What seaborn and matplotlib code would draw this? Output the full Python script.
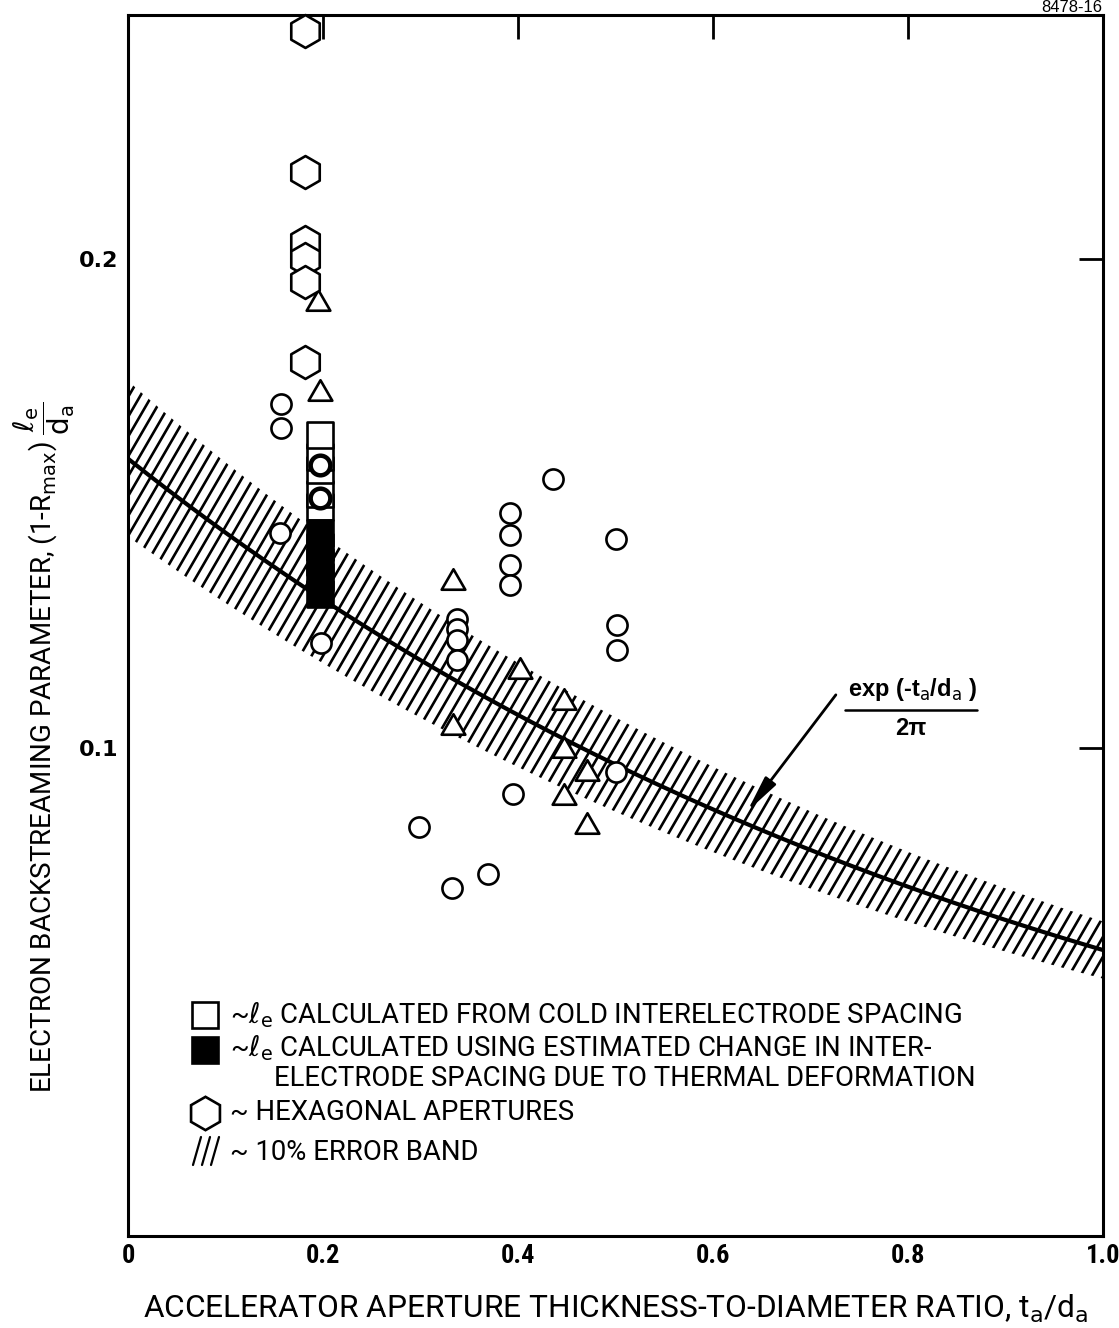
import numpy as np
import pandas as pd
import matplotlib
matplotlib.use("Agg")
import matplotlib.pyplot as plt
import seaborn as sns
from matplotlib.collections import LineCollection
from matplotlib.path import Path
from matplotlib import font_manager as fm

# ---- measured points (t_a/d_a, (1-Rmax) l_e/d_a) ----
circle_x = [0.436, 0.392, 0.392, 0.392, 0.392, 0.500, 0.502, 0.502,
            0.337, 0.337, 0.337, 0.337, 0.500, 0.395, 0.298, 0.369,
            0.332, 0.157, 0.157, 0.156, 0.198]
circle_y = [0.1550, 0.1481, 0.1436, 0.1374, 0.1333, 0.1427, 0.1252, 0.1200,
            0.1264, 0.1243, 0.1221, 0.1180, 0.0951, 0.0906, 0.0838, 0.0742,
            0.0712, 0.1703, 0.1654, 0.1440, 0.1215]

bold_circle_x = [0.197, 0.197]
bold_circle_y = [0.1579, 0.1511]

triangle_x = [0.195, 0.197, 0.333, 0.402, 0.333, 0.447, 0.447, 0.471, 0.447, 0.471]
triangle_y = [0.1916, 0.1732, 0.1346, 0.1162, 0.1049, 0.1100, 0.1002, 0.0955, 0.0906, 0.0845]

hexagon_x = [0.1815, 0.1815, 0.1815, 0.1815, 0.1815, 0.1815]
hexagon_y = [0.2468, 0.2178, 0.2035, 0.2000, 0.1953, 0.1789]

cold_square_x = [0.197, 0.197, 0.197, 0.197, 0.197]
cold_square_y = [0.1640, 0.1595, 0.1569, 0.1519, 0.1493]

hot_square_x = [0.197, 0.197, 0.197, 0.197, 0.197]
hot_square_y = [0.1440, 0.1411, 0.1380, 0.1350, 0.1315]

x_ticks = [0, 0.2, 0.4, 0.6, 0.8, 1.0]
x_tick_labels = ["0", "0.2", "0.4", "0.6", "0.8", "1.0"]
y_ticks = [0.1, 0.2]
y_tick_labels = ["0.1", "0.2"]

error_fraction = 0.10

# ---- fonts ----
sns.set_style("white")
_fonts = fm.fontManager.ttflist
_names = {f.name for f in _fonts}
NARROW_STRETCH = "normal"
if "Liberation Sans Narrow" in _names:
    NARROW_FAMILY = "Liberation Sans Narrow"
elif "Roboto Condensed" in _names:
    NARROW_FAMILY = "Roboto Condensed"
elif any(f.name == "DejaVu Sans" and str(f.stretch) in ("condensed", "semi-condensed")
         for f in _fonts):
    NARROW_FAMILY = "DejaVu Sans"
    NARROW_STRETCH = "condensed"
else:
    NARROW_FAMILY = "Roboto"
NARROW = [NARROW_FAMILY, "DejaVu Sans"]
LETTER = ["Roboto", "DejaVu Sans"]

plt.rcParams["font.family"] = LETTER
plt.rcParams["mathtext.fontset"] = "dejavusans"
for key in ("text.color", "axes.labelcolor", "xtick.color", "ytick.color", "axes.edgecolor"):
    plt.rcParams[key] = "black"

W, H = 1119, 1328
fig = plt.figure(figsize=(W / 100, H / 100), dpi=100)
L, R, T, B = 128, 1103, 15, 1236
ax = fig.add_axes([L / W, 1 - B / H, (R - L) / W, (B - T) / H])
ax.set_xlim(0, 1.0)
ax.set_ylim(0, 0.25)

# ---- theoretical curve and 10% band ----
xs = np.linspace(0, 1.0, 400)
curve = np.exp(-xs) / (2 * np.pi)
band = ax.fill_between(xs, curve * (1 - error_fraction), curve * (1 + error_fraction),
                       facecolor="none", edgecolor="none", zorder=1)
# steep hatch lines clipped to the band
px_x = 1.0 / (R - L)
dx_line = 0.58 * (B - T) * px_x
starts = np.arange(-0.9, 1.1, 11.5 * px_x)
segs = [[(s, 0.0), (s + dx_line, 0.25)] for s in starts]
hatch = LineCollection(segs, colors="black", linewidths=1.9, zorder=1)
ax.add_collection(hatch)
hatch.set_clip_path(band.get_paths()[0], ax.transData)

curve_df = pd.DataFrame({"x": xs, "y": curve})
sns.lineplot(data=curve_df, x="x", y="y", ax=ax, color="black", linewidth=3.0, zorder=2)

# ---- data markers ----
tri = Path([(-1, -0.866), (1, -0.866), (0, 0.866), (-1, -0.866)],
           [Path.MOVETO, Path.LINETO, Path.LINETO, Path.CLOSEPOLY])
sns.scatterplot(x=circle_x, y=circle_y, ax=ax, marker="o", s=210, color="white",
                edgecolor="black", linewidth=1.9, zorder=4)
sns.scatterplot(x=triangle_x, y=triangle_y, ax=ax, marker=tri, s=290, color="white",
                edgecolor="black", linewidth=1.9, zorder=4)
sns.scatterplot(x=hexagon_x, y=hexagon_y, ax=ax, marker="h", s=560, color="white",
                edgecolor="black", linewidth=1.9, zorder=4, clip_on=False)
# cold-spacing squares, drawn so the upper one sits on top
for i in range(len(cold_square_x) - 1, -1, -1):
    sns.scatterplot(x=[cold_square_x[i]], y=[cold_square_y[i]], ax=ax, marker="s",
                    s=340, color="white", edgecolor="black", linewidth=1.9, zorder=4)
sns.scatterplot(x=hot_square_x, y=hot_square_y, ax=ax, marker="s", s=340,
                color="black", edgecolor="black", linewidth=1.9, zorder=4)
sns.scatterplot(x=bold_circle_x, y=bold_circle_y, ax=ax, marker="o", s=200,
                color="white", edgecolor="black", linewidth=3.2, zorder=5)

# ---- curve annotation ----
ax.annotate("", xy=(0.635, 0.0869), xytext=(0.726, 0.1108),
            arrowprops=dict(arrowstyle="-|>,head_length=1.1,head_width=0.2",
                            mutation_scale=20, lw=2.0, color="black",
                            shrinkA=0, shrinkB=0), zorder=6)
ax.text(0.805, 0.1118, r"exp (-t$_{\rm a}$/d$_{\rm a}$ )", ha="center", va="center",
        fontsize=17, fontweight="bold", family=["Liberation Sans", "DejaVu Sans"])
ax.plot([0.735, 0.871], [0.1076, 0.1076], color="black", lw=1.8, zorder=6)
ax.text(0.803, 0.1040, "2π", ha="center", va="center", fontsize=17,
        fontweight="bold", family=["Liberation Sans", "DejaVu Sans"])

# ---- legend (drawn in axes fraction) ----
def ax_pt(px, py):
    return ((px - L) / (R - L), 1 - (py - T) / (B - T))

leg_fs = 19.8
mx = 205
for py, mk, fc, sz in [(1015, "s", "white", 19), (1050, "s", "black", 19), (1113, "h", "white", 24)]:
    xa, ya = ax_pt(mx, py)
    ax.plot([xa], [ya], marker=mk, ms=sz, mfc=fc, mec="black", mew=1.9,
            transform=ax.transAxes, clip_on=False, zorder=6)
# three slashes for the band entry
for k in range(3):
    x0, y0 = ax_pt(193 + k * 9, 1165)
    x1, y1 = ax_pt(201 + k * 9, 1137)
    ax.plot([x0, x1], [y0, y1], color="black", lw=1.6, transform=ax.transAxes)

legend_rows = [
    (230, 1015, r"~$\ell_{\rm e}$ CALCULATED FROM COLD INTERELECTRODE SPACING"),
    (230, 1048, r"~$\ell_{\rm e}$ CALCULATED USING ESTIMATED CHANGE IN INTER-"),
    (274, 1078, "ELECTRODE SPACING DUE TO THERMAL DEFORMATION"),
    (230, 1113, "~ HEXAGONAL APERTURES"),
    (230, 1152, "~ 10% ERROR BAND"),
]
for px, py, txt in legend_rows:
    xa, ya = ax_pt(px, py)
    ax.text(xa, ya, txt, transform=ax.transAxes, ha="left", va="center",
            fontsize=leg_fs)

# ---- axes styling ----
for sp in ax.spines.values():
    sp.set_visible(True)
    sp.set_linewidth(2.2)
    sp.set_color("black")
ax.set_xticks(x_ticks)
ax.set_xticklabels(x_tick_labels, fontsize=19, fontweight="bold", family=NARROW,
                   fontstretch=NARROW_STRETCH)
ax.set_yticks(y_ticks)
ax.set_yticklabels(y_tick_labels, fontsize=16, fontweight="bold",
                   family=["DejaVu Sans"])
ax.tick_params(axis="both", direction="in", length=17, width=2.0,
               top=True, right=True, color="black")
ax.tick_params(axis="x", pad=6)
ax.tick_params(axis="y", pad=7)

ax.set_xlabel(r"ACCELERATOR APERTURE THICKNESS-TO-DIAMETER RATIO, t$_{\rm a}$/d$_{\rm a}$",
              fontsize=22.8)
ax.xaxis.set_label_coords(0.5, -0.046)
ax.set_ylabel(r"ELECTRON BACKSTREAMING PARAMETER, (1-R$_{\rm max}$) $\dfrac{\ell_{\rm e}}{\rm d_a}$",
              fontsize=20)
ax.yaxis.set_label_coords(-0.052, 0.40)

fig.text(1072 / W, 1 - 12 / H, "8478-16", ha="center", va="baseline",
         fontsize=12, family=["Liberation Sans", "DejaVu Sans"])

fig.savefig("out.png", dpi=100)
